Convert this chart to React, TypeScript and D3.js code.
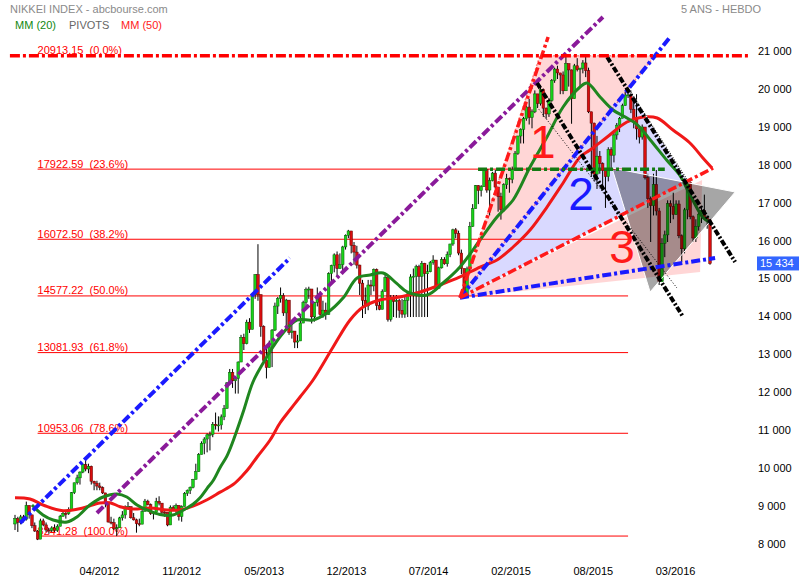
import React from 'react';
import * as d3 from 'd3';

// ---------- DATA (weekly candles, Sep 2011 -> Jun 2016) ----------
const firstOpen = 8560;
const closes = [
  8700, 8605, 8747, 8678, 9050, 8801, 8514, 8374, 8160, 8643, 8536, 8401, 8395, 8455,
  8390, 8500, 8766, 8841, 8831, 8947, 9384, 9647, 9777, 9929, 10129, 10011, 10083, 9688, 9637, 9561, 9520, 9380, 9090, 8611, 8593, 8440, 8459, 8721, 8798, 9006, 9020, 8724, 8669, 8566, 8555, 8891, 9162, 9070, 8839, 8871, 9159, 9110, 8870, 8863, 8534, 9002, 8933, 9051, 8757, 9024, 9366, 9446, 9527, 9737, 9940, 10395,
  10688, 10801, 10913, 10926, 11191, 11153, 11173, 11386, 11606, 12283, 12560, 12338, 12397, 12833, 13485, 13316, 13884, 13694, 14607, 15138, 14612, 13774, 12877, 12686, 13230, 13677, 14309, 14506, 14589, 14129, 14466, 13615, 13650, 13360, 13389, 13861, 14404, 14742, 14760, 14025, 14404, 14561, 14088, 14201, 14086, 15165, 15382, 15662, 15299, 15403, 15870, 16178,
  16291, 15912, 15734, 15391, 14914, 14462, 14313, 14865, 14841, 15274, 14327, 14224, 14696, 15063, 13960, 14516, 14429, 14457, 14199, 14097, 14462, 14632, 15077, 15097, 15349, 15095, 15437, 15164, 15215, 15457, 15523, 14778, 15318, 15539, 15425, 15668, 15948, 16321, 16229, 15708, 15300, 14532, 15291, 16413, 16880, 17490, 17357, 17459, 17920, 17371, 17621, 17818,
  17450, 17197, 16864, 17511, 17674, 17648, 17913, 18332, 18797, 18971, 19254, 19560, 19286, 19435, 19908, 19653, 20020, 19531, 19379, 19733, 20264, 20563, 20461, 20407, 19990, 20706, 20540, 19780, 20650, 20545, 20585, 20724, 20519, 19436, 19136, 17792, 18264, 18070, 17880, 17725, 18438, 18291, 18825, 19083, 19265, 19597, 19879, 19883, 19504, 19230, 18986, 18769,
  19033, 17697, 17147, 16958, 17518, 16819, 14952, 15967, 16188, 17014, 16938, 16724, 17002, 16164, 15821, 16848, 17572, 16666, 16106, 16412, 16736, 16834, 16642, 16601, 15434,
];
const highs = [
  8800, 8750, 8800, 8800, 9150, 9050, 8800, 8600, 8400, 8700, 8700, 8600, 8450, 8500,
  8550, 8550, 8800, 8900, 8900, 9000, 9400, 9650, 9860, 9950, 10150, 10250, 10150, 10100, 9700, 9700, 9650, 9550, 9350, 9100, 8750, 8700, 8550, 8750, 8900, 9050, 9140, 9000, 8850, 8700, 8700, 8950, 9220, 9200, 9100, 8900, 9250, 9290, 9100, 8900, 8850, 9050, 9050, 9100, 9050, 9050, 9400, 9470, 9550, 9750, 10150, 10430,
  10740, 10850, 10950, 11000, 11250, 11500, 11400, 11450, 11700, 12300, 12650, 12650, 12450, 12850, 13550, 13580, 13950, 13990, 14650, 15150, 15942, 14600, 13800, 13200, 13400, 13700, 14400, 14550, 14800, 14650, 14500, 14450, 13850, 13600, 13550, 14050, 14450, 14800, 14820, 14700, 14420, 14800, 14700, 14450, 14400, 15200, 15400, 15700, 15750, 15700, 15900, 16200,
  16320, 16200, 16000, 15900, 15400, 15000, 14800, 15000, 15000, 15300, 15300, 14500, 14750, 15170, 15000, 14600, 14600, 14600, 14500, 14500, 14550, 14700, 15150, 15300, 15400, 15400, 15500, 15450, 15400, 15500, 15650, 15500, 15350, 15600, 15600, 15750, 15950, 16350, 16370, 16300, 15800, 15300, 15350, 16530, 17000, 17500, 17500, 17500, 17950, 17900, 17700, 17850,
  17900, 17400, 17300, 17550, 17800, 17700, 17990, 18400, 18800, 19000, 19300, 19600, 19780, 19500, 20000, 19900, 20130, 20050, 19550, 19800, 20300, 20600, 20650, 20450, 20500, 20952, 20650, 20550, 20700, 20850, 20600, 20800, 20950, 20600, 19400, 19150, 18800, 18400, 18100, 17900, 18500, 18500, 18900, 19140, 19300, 19650, 19950, 20000, 20000, 19800, 19900, 19000,
  19100, 18950, 17800, 17200, 17800, 17900, 16900, 16100, 16300, 17100, 17100, 17300, 17100, 17100, 16200, 16900, 17600, 17600, 16700, 16600, 16800, 16900, 17250, 16700, 16600,
];
const lows = [
  8400, 8350, 8550, 8600, 8650, 8700, 8450, 8350, 8135, 8200, 8500, 8350, 8300, 8350,
  8350, 8350, 8500, 8750, 8700, 8800, 8950, 9350, 9600, 9600, 9900, 9950, 9900, 9600, 9450, 9450, 9450, 9350, 9000, 8600, 8550, 8400, 8240, 8500, 8650, 8700, 8950, 8700, 8650, 8330, 8500, 8600, 8900, 9050, 8800, 8680, 8850, 9050, 8800, 8750, 8500, 8550, 8900, 8800, 8650, 8620, 9050, 9300, 9350, 9500, 9800, 9950,
  10400, 10400, 10450, 10500, 10850, 11050, 11000, 11050, 11300, 11700, 12250, 12150, 12000, 12000, 12900, 13150, 13300, 13600, 13700, 14500, 14450, 13500, 12800, 12400, 12700, 12700, 13650, 14100, 14400, 14050, 13700, 13550, 13450, 13200, 13200, 13500, 13900, 14300, 14500, 13850, 13900, 14300, 14050, 14000, 13950, 14100, 14900, 15200, 15100, 15300, 15150, 15800,
  16100, 15700, 15400, 15300, 14600, 13995, 14100, 14200, 14600, 14700, 14200, 14200, 14300, 14800, 13900, 13900, 14020, 14000, 14000, 14000, 14000, 14020, 14020, 14020, 14020, 14020, 14020, 14020, 14020, 15200, 15400, 14750, 14800, 15300, 15400, 15350, 15600, 15900, 16100, 15650, 15150, 14530, 14600, 15200, 16400, 16900, 17000, 17200, 17500, 17300, 16700, 17600,
  17400, 16800, 16590, 16800, 17400, 17300, 17550, 17900, 18300, 18600, 18600, 19200, 19100, 19000, 19400, 19550, 19600, 19300, 19250, 19300, 19700, 20200, 20300, 19900, 19900, 20100, 20100, 19120, 19900, 20500, 20100, 20450, 20350, 19400, 17714, 17600, 17400, 17800, 17400, 16900, 17600, 17900, 18100, 18700, 18900, 19300, 19600, 19800, 19400, 19000, 18700, 18600,
  18700, 17650, 16900, 16000, 16700, 16700, 14865, 15200, 15600, 16000, 16500, 16600, 16800, 16100, 15470, 15700, 16600, 16600, 16000, 16000, 16300, 16500, 16600, 16350, 15400,
];

// moving averages: [week index, value]
const mm20: [number, number][] = [
  [6, 9060], [9.9, 8797], [13.5, 8665], [18.4, 8612], [21.9, 8744], [26.5, 9060], [31.2, 9272], [36.1, 9351], [39.6, 9272], [43.2, 9060], [46.7, 8929], [51.3, 8810], [55.9, 8797], [60.9, 8982], [63, 9080], [65.5, 9250], [68, 9500], [70.1, 9700], [72.6, 10050], [75, 10350], [77.2, 10750], [80.7, 11500], [84.2, 12300], [87.8, 12800], [91.3, 13230], [94.9, 13600], [99.8, 13942], [105.5, 13942], [110.4, 14126], [116.1, 14522], [121.1, 15050], [125.7, 15130], [130.3, 15182], [135.2, 14900], [138.8, 14681], [145.8, 14602], [151.5, 14918], [157.5, 15340], [164.6, 16053], [170.6, 16660], [176.3, 17108], [182.3, 17979], [188.3, 18770], [194, 19562], [200, 20090], [202.5, 20195], [207.1, 19826], [211.7, 19483], [216.6, 19272], [220.2, 19100], [224.8, 18700], [230.8, 18150], [235.4, 17750], [238.9, 17250], [243.5, 16650], [246, 16520],
];
const mm50: [number, number][] = [
  [0, 9253], [5.3, 9220], [10.6, 9040], [17, 8910], [24, 8982], [30, 9114], [33.6, 9122], [37.2, 9016], [41.8, 8955], [47.8, 8982], [53.8, 8929], [58.4, 8929], [63, 9030], [68, 9200], [72.6, 9400], [77.2, 9600], [80.7, 9850], [83.2, 10071], [85.7, 10327], [90.3, 10776], [93.8, 11224], [97.3, 11567], [100.9, 11910], [105.5, 12359], [112.6, 13230], [118.6, 13942], [123.2, 14285], [129.2, 14470], [136.3, 14549], [143.4, 14681], [150.4, 14865], [157.5, 15077], [164.6, 15340], [170.6, 15525], [176.3, 15868], [182.3, 16317], [188.3, 16923], [194, 17557], [200, 18243], [203.5, 18427], [209.6, 18770], [216.6, 19166], [222.3, 19298], [227.3, 19272], [232.9, 18955], [238.9, 18612], [243.5, 18216], [246.7, 17952],
];

const fibValues = [20913.15, 17922.59, 16072.5, 14577.22, 13081.93, 10953.06, 8241.28];
const fibPercents = ['0.0%', '23.6%', '38.2%', '50.0%', '61.8%', '78.6%', '100.0%'];
const fibFrom = 8;
const fibTo = 217;

const yTickValues = [8000, 9000, 10000, 11000, 12000, 13000, 14000, 15000, 16000, 17000, 18000, 19000, 20000, 21000];
const xTickIdx = [29.9, 59, 88.2, 117.3, 146.4, 175.6, 204.7, 233.8];
const xTickLabels = ['04/2012', '11/2012', '05/2013', '12/2013', '07/2014', '02/2015', '08/2015', '03/2016'];
const lastValue = 15434;

// hand-drawn annotations, in [week index, value]
const fanOrigin: [number, number] = [157.5, 14530];
const purpleChannel: [number, number][] = [[29, 8850], [208.1, 21937]];
const blueChannel: [number, number][] = [[1.8, 8586], [97.3, 15578]];
const blueFanUpper: [number, number][] = [fanOrigin, [231.9, 21409]];
const blueFanLower: [number, number][] = [fanOrigin, [247.8, 15578]];
const redFanSteep: [number, number][] = [fanOrigin, [188.7, 21409]];
const redFanMid: [number, number][] = [fanOrigin, [247.1, 17953]];
const blackLine1: [number, number][] = [[209.6, 20881], [254.9, 15472]];
const blackLine2: [number, number][] = [[184.8, 20195], [236.5, 14021]];
const thinDotted: [number, number][] = [[184.8, 19562], [234.3, 14786]];
const greenLevel: [number, number][] = [[163.9, 17922.59], [230, 17922.59]];
const topLevel: [number, number][] = [[-1.8, 20913.15], [259.5, 20913.15]];
const triangle1: [number, number][] = [fanOrigin, [185.8, 20913], [226.5, 20913]];
const triangle2: [number, number][] = [fanOrigin, [217, 20063], [238.2, 17609]];
const triangle3: [number, number][] = [fanOrigin, [243.2, 17636], [242.5, 15208]];
const greyTriangle: [number, number][] = [[211.3, 17953], [254.9, 17319], [224.8, 14681]];
const waveLabels = [
  { t: '1', i: 182.3, v: 18216, c: '#ff1a1a' },
  { t: '2', i: 195.8, v: 16844, c: '#1a1aff' },
  { t: '3', i: 210.3, v: 15446, c: '#ff1a1a' },
];

const FONT = '"Liberation Sans", Arial, sans-serif';

export default function App() {
  const W = 800;
  const H = 580;
  const x = d3.scaleLinear().domain([0, 246]).range([15, 710]);
  const y = d3.scaleLinear().domain([8000, 21000]).range([545.2, 52.5]);
  const fmt = d3.formatLocale({ decimal: ',', thousands: ' ', grouping: [3], currency: ['', ''] }).format(',d');

  const candles = closes.map((c, i) => {
    const o = i === 0 ? firstOpen : closes[i - 1];
    return { i, o, c, h: Math.max(highs[i], o, c), l: Math.min(lows[i], o, c) };
  });

  const maLine = d3
    .line<[number, number]>()
    .x((d) => x(d[0]))
    .y((d) => y(d[1]))
    .curve(d3.curveCatmullRom.alpha(0.5));
  const poly = (pts: [number, number][]) => pts.map((p) => `${x(p[0])},${y(p[1])}`).join(' ');
  const seg = (pts: [number, number][], props: any, key?: string) => (
    <line key={key} x1={x(pts[0][0])} y1={y(pts[0][1])} x2={x(pts[1][0])} y2={y(pts[1][1])} {...props} />
  );

  const dashDot = '9,3,3,3';
  const bw = 2.6;

  return (
    <div style={{ position: 'absolute', left: 0, top: 0 }}>
      <svg width={W} height={H} style={{ display: 'block', background: '#fff' }} fontFamily={FONT}>
        {/* shaded triangles */}
        <polygon points={poly(triangle1)} fill="rgba(255,0,0,0.16)" stroke="rgba(255,90,90,0.7)" strokeWidth={1.5} strokeDasharray="2,2" />
        <polygon points={poly(triangle2)} fill="rgba(0,0,255,0.15)" stroke="none" />
        <polygon points={poly(triangle3)} fill="rgba(255,0,0,0.16)" stroke="none" />

        {/* fibonacci levels */}
        {fibValues.slice(1).map((v, k) => (
          <line key={'f' + k} x1={x(fibFrom)} x2={x(fibTo)} y1={y(v)} y2={y(v)} stroke="#ff0000" strokeWidth={1} />
        ))}
        {fibValues.map((v, k) => (
          <text key={'fl' + k} x={x(fibFrom)} y={y(v) - 1.5} fill="#ff0000" fontSize={11} style={{ whiteSpace: 'pre' }}>
            {`${v.toFixed(2)}  (${fibPercents[k]})`}
          </text>
        ))}

        {/* candles */}
        {candles.map((d) => {
          const up = d.c >= d.o;
          const cx = x(d.i);
          const top = y(Math.max(d.o, d.c));
          const bot = y(Math.min(d.o, d.c));
          return (
            <g key={'c' + d.i}>
              <line x1={cx} x2={cx} y1={y(d.h)} y2={y(d.l)} stroke="#000" strokeWidth={1} />
              <rect
                x={cx - bw / 2}
                y={top}
                width={bw}
                height={Math.max(1, bot - top)}
                fill={up ? '#19d219' : '#d80e0e'}
                stroke={up ? '#075f07' : '#5f0000'}
                strokeWidth={0.5}
              />
            </g>
          );
        })}

        {/* moving averages */}
        <path d={maLine(mm50) || ''} fill="none" stroke="#f01818" strokeWidth={3} />
        <path d={maLine(mm20) || ''} fill="none" stroke="#1f861f" strokeWidth={3} />

        {/* grey triangle */}
        <polygon points={poly(greyTriangle)} fill="rgba(0,0,0,0.35)" stroke="#ffffff" strokeWidth={1} />

        {/* drawn lines */}
        {seg(thinDotted, { stroke: '#000', strokeWidth: 1, strokeDasharray: '1,2' })}
        {seg([triangle2[1], triangle2[2]], { stroke: '#fff', strokeWidth: 1.4 })}
        {seg([triangle2[1], triangle2[2]], { stroke: '#222', strokeWidth: 1.2, strokeDasharray: '1,1.5' })}
        {seg(purpleChannel, { stroke: '#8a1a9a', strokeWidth: 4, strokeDasharray: dashDot })}
        {seg(blueChannel, { stroke: '#1a1aff', strokeWidth: 4, strokeDasharray: dashDot })}
        {seg(blueFanUpper, { stroke: '#1a1aff', strokeWidth: 4, strokeDasharray: dashDot })}
        {seg(blueFanLower, { stroke: '#1a1aff', strokeWidth: 4, strokeDasharray: dashDot })}
        {seg(redFanSteep, { stroke: '#ff1a1a', strokeWidth: 3.5, strokeDasharray: dashDot })}
        {seg(redFanMid, { stroke: '#ff1a1a', strokeWidth: 3.5, strokeDasharray: dashDot })}
        {seg(greenLevel, { stroke: '#137a13', strokeWidth: 3.5, strokeDasharray: dashDot })}
        {seg(blackLine1, { stroke: '#000', strokeWidth: 4, strokeDasharray: '6,2,2,2' })}
        {seg(blackLine2, { stroke: '#000', strokeWidth: 4, strokeDasharray: '6,2,2,2' })}
        {seg(topLevel, { stroke: '#ff0000', strokeWidth: 3.5, strokeDasharray: '10,3,3,3' })}

        {/* wave numbers */}
        {waveLabels.map((w) => (
          <text key={w.t} x={x(w.i)} y={y(w.v)} fill={w.c} fontSize={46}>
            {w.t}
          </text>
        ))}

        {/* y axis labels */}
        {yTickValues.map((v) => (
          <text key={'y' + v} x={758} y={y(v) + 2.5} fontSize={11} fill="#000">
            {fmt(v)}
          </text>
        ))}
        <rect x={757} y={y(lastValue) - 7} width={42} height={14} fill="#3366ff" />
        <text x={760} y={y(lastValue) + 4} fontSize={11} fill="#fff">
          {fmt(lastValue)}
        </text>

        {/* x axis labels */}
        {xTickIdx.map((t, k) => (
          <text key={'x' + k} x={x(t)} y={575} fontSize={11} fill="#000" textAnchor="middle">
            {xTickLabels[k]}
          </text>
        ))}

        {/* titles and legend */}
        <text x={10} y={13} fontSize={11} fill="#8a8a8a">NIKKEI INDEX - abcbourse.com</text>
        <text x={681} y={13} fontSize={11} fill="#8a8a8a">5 ANS - HEBDO</text>
        <text x={15} y={29} fontSize={11} fill="#118811">MM (20)</text>
        <text x={69} y={29} fontSize={11} fill="#666">PIVOTS</text>
        <text x={121} y={29} fontSize={11} fill="#ff2020">MM (50)</text>
      </svg>
    </div>
  );
}
